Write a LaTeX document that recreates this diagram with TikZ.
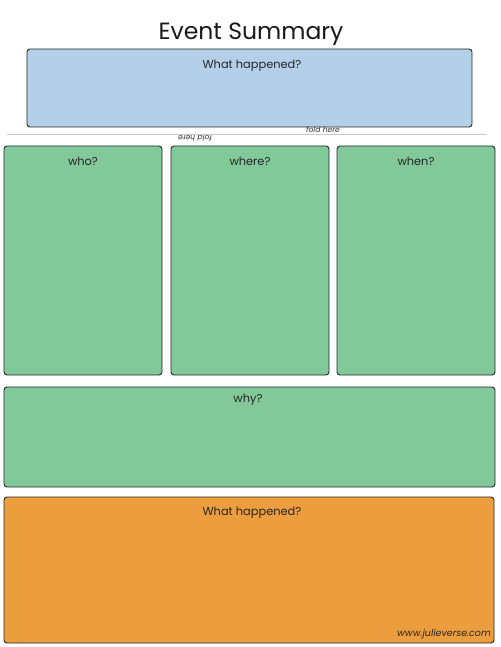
\documentclass[tikz,border=0pt]{standalone}
\usepackage{fontspec}
\setmainfont{Poppins}
\definecolor{boxblue}{HTML}{B4D0E8}
\definecolor{boxgreen}{HTML}{82C99A}
\definecolor{boxorange}{HTML}{EC9E3E}
\definecolor{foldgray}{HTML}{C8C8C8}
\begin{document}
\begin{tikzpicture}[x=1pt,y=-1pt,
  panel/.style={draw=black!85,line width=0.9pt,rounded corners=3pt},
  lbl/.style={font=\fontsize{11.4}{13}\selectfont,text=black!85,anchor=center},
  foldtxt/.style={font=\itshape\fontsize{7.6}{9}\selectfont,text=black!80,inner sep=0pt}]
\useasboundingbox (0,0) rectangle (500,647);
\node[font=\fontsize{23.5}{28}\selectfont,text=black!90] (title) at (251,34.5) {Event Summary};
% top blue box
\draw[panel,fill=boxblue] (27,49) rectangle (472,127);
\node[lbl] (q1) at (252,65.5) {What happened?};
% fold line
\coordinate (fl) at (7,134.5);
\coordinate (fr) at (487,134.5);
\draw[foldgray,line width=0.8pt] (fl) -- (fr);
\node[foldtxt,anchor=base] (fold1) at (323,132.5) {fold here};
\node[foldtxt,rotate=180,anchor=base] (fold2) at (195,136) {fold here};
% three green boxes
\draw[panel,fill=boxgreen] (4,146) rectangle (162,375);
\node[lbl] (who) at (83,161.5) {who?};
\draw[panel,fill=boxgreen] (171,146) rectangle (329,375);
\node[lbl] (where) at (250,161.5) {where?};
\draw[panel,fill=boxgreen] (337,146) rectangle (495,375);
\node[lbl] (when) at (416,161.5) {when?};
% why
\draw[panel,fill=boxgreen] (4,387) rectangle (495,487);
\node[lbl] (why) at (248,399.5) {why?};
% orange
\draw[panel,fill=boxorange] (4,497) rectangle (494,643);
\node[lbl] (q2) at (252,512.5) {What happened?};
\node[font=\itshape\fontsize{9.5}{11}\selectfont,text=black!85,anchor=base east,inner sep=0pt] (url) at (491,636) {www.julieverse.com};
\end{tikzpicture}
\end{document}
